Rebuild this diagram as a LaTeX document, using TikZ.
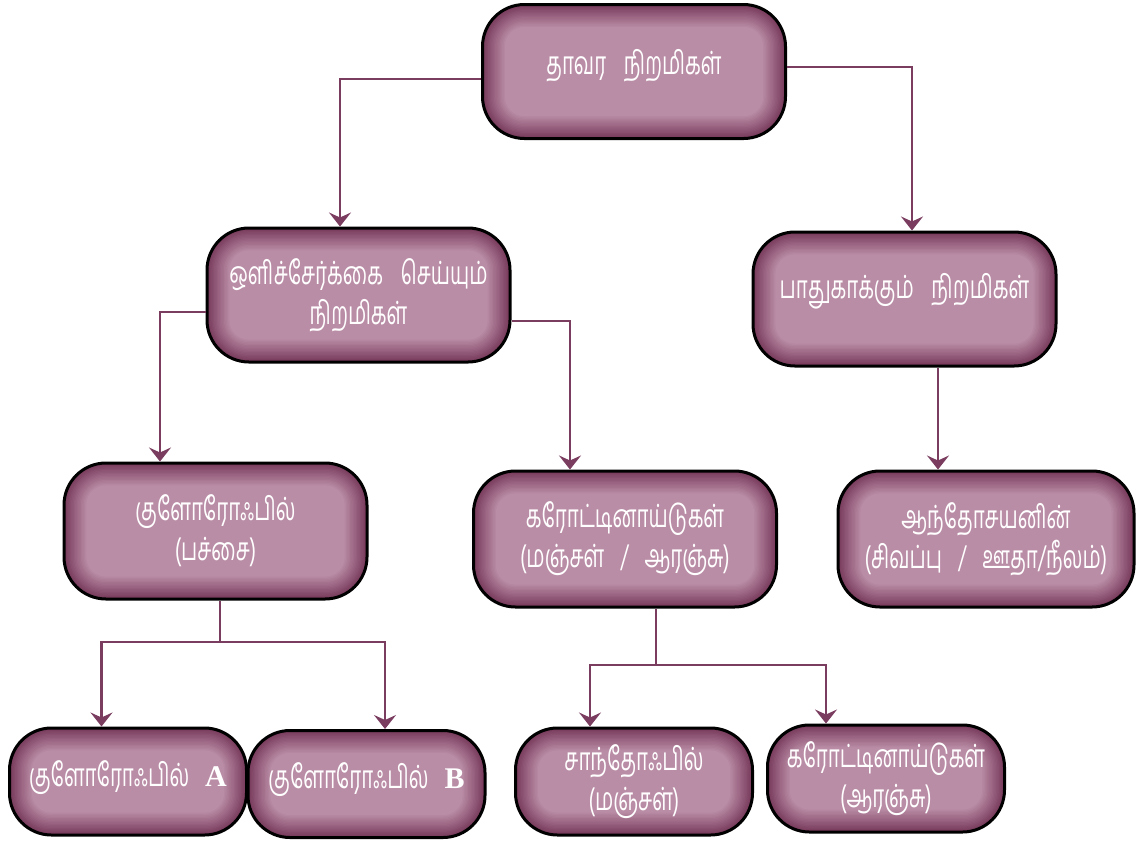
\documentclass[tikz,border=0pt]{standalone}
\usepackage{fontspec}
\newfontfamily\tamil[Script=Tamil,FakeStretch=0.64]{Hind Madurai}
\newfontfamily\latinserif{Liberation Serif}
\usetikzlibrary{arrows.meta}
\definecolor{boxdark}{RGB}{120,58,92}
\definecolor{boxlight}{RGB}{186,141,166}
\definecolor{linecol}{RGB}{122,60,95}
\tikzset{
 pbox/.style={draw=black, line width=1.5pt, rounded corners=21pt, text=white, align=center,
   font=\tamil\fontsize{16}{20}\selectfont, inner sep=0pt,
   path picture={
     \fill[boxdark] (path picture bounding box.south west) rectangle (path picture bounding box.north east);
     \foreach \k in {1,...,16}{
       \pgfmathsetmacro\dd{\k*0.7}
       \pgfmathsetmacro\rr{max(2,21-\k*0.7)}
       \pgfmathtruncatemacro\pp{\k*100/16}
       \fill[boxlight!\pp!boxdark, rounded corners=\rr pt]
         ([shift={(\dd pt,\dd pt)}]path picture bounding box.south west) rectangle
         ([shift={(-\dd pt,-\dd pt)}]path picture bounding box.north east);
     }
   }},
 bigbox/.style={pbox, minimum width=151.5pt, minimum height=67pt},
 smallbox/.style={pbox, minimum width=118.5pt, minimum height=53.5pt},
 conn/.style={draw=linecol, line width=1.4pt, -{Stealth[length=7pt,width=11pt,inset=2.5pt]}},
 plainline/.style={draw=linecol, line width=1.4pt}
}
\newcommand{\gap}{\hspace{0.55em}}
\newcommand{\sgap}{\hspace{0.5em}}
\newcommand{\lat}[1]{{\latinserif\bfseries\fontsize{15}{20}\selectfont #1}}
\begin{document}
\begin{tikzpicture}[x=0.5pt,y=-0.5pt]
\useasboundingbox (0,0) rectangle (1137,843);
% boxes
\node[bigbox] (top) at (634,71.5) {\raisebox{3pt}[\height][\depth]{தாவர\gap நிறமிகள்}};
\node[bigbox] (b2) at (358.5,295) {ஒளிச்சேர்க்கை\gap செய்யும்\\நிறமிகள்};
\node[bigbox] (b3) at (904.5,299) {\raisebox{4pt}[\height][\depth]{பாதுகாக்கும்\gap நிறமிகள்}};
\node[bigbox, minimum height=68pt] (b4) at (215.5,531) {குளோரோஃபில்\\(பச்சை)};
\node[bigbox, minimum height=68pt] (b5) at (625,539) {கரோட்டினாய்டுகள்\\(மஞ்சள்\sgap/\sgap ஆரஞ்சு)};
\node[bigbox, minimum width=148pt, minimum height=68pt] (b6) at (986,539) {ஆந்தோசயனின்\\(சிவப்பு\sgap/\sgap ஊதா/நீலம்)};
\node[smallbox] (b7) at (128,781.5) {\raisebox{2pt}[\height][\depth]{குளோரோஃபில்\sgap\lat{A}}};
\node[smallbox] (b8) at (366.5,784) {\raisebox{2pt}[\height][\depth]{குளோரோஃபில்\sgap\lat{B}}};
\node[smallbox] (b9) at (634,781.5) {சாந்தோஃபில்\\(மஞ்சள்)};
\node[smallbox] (b10) at (886,778.5) {கரோட்டினாய்டுகள்\\(ஆரஞ்சு)};
% connectors
\draw[conn] ([shift={(0,7.5)}]top.west) -| ([shift={(-18.5,0)}]b2.north);
\draw[conn] ([shift={(0,-4.5)}]top.east) -| ([shift={(7.5,0)}]b3.north);
\draw[conn] ([shift={(0,17)}]b2.west) -| ([shift={(-55.5,0)}]b4.north);
\draw[conn] ([shift={(0,26)}]b2.east) -| ([shift={(-55,0)}]b5.north);
\draw[conn] ([shift={(33.5,0)}]b3.south) -- ([shift={(33.5,0)}]b3.south |- b6.north);
\coordinate (j1) at (220,642);
\coordinate (j2) at (656,665);
\draw[plainline] ([shift={(4.5,0)}]b4.south) -- (j1);
\draw[conn] (j1) -| ([shift={(-26.5,0)}]b7.north);
\draw[conn] (j1) -| ([shift={(18.5,0)}]b8.north);
\draw[plainline] ([shift={(31,0)}]b5.south) -- (j2);
\draw[conn] (j2) -| ([shift={(-44,0)}]b9.north);
\draw[conn] (j2) -| ([shift={(-60,0)}]b10.north);
\end{tikzpicture}
\end{document}
